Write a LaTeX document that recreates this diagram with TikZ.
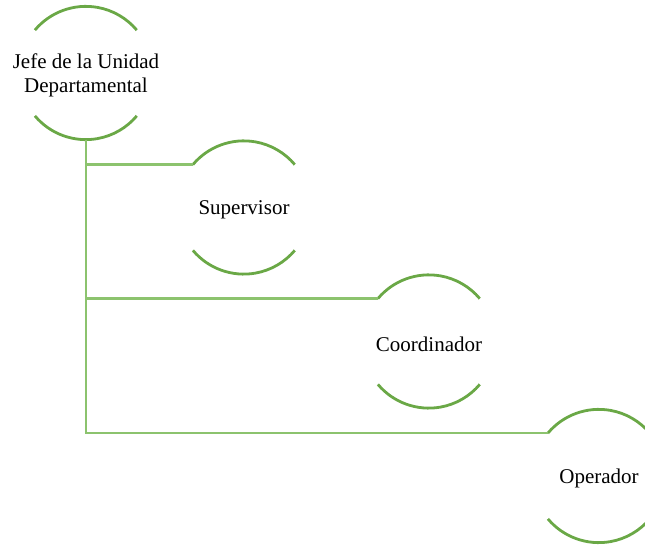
\documentclass[tikz,border=0pt]{standalone}
\usepackage{fontspec}
\setmainfont{Liberation Serif}
\definecolor{ringgreen}{RGB}{106,168,70}
\definecolor{linkgreen}{RGB}{140,195,110}
\tikzset{
	ring/.style={circle, minimum size=133pt, inner sep=0pt},
	role/.style={font=\fontsize{21}{23.5}\selectfont, align=center, inner sep=0pt, yshift=-2.5pt},
	arcline/.style={ringgreen, line width=2.8pt},
	link/.style={linkgreen, line width=2.6pt}
}
\begin{document}
\begin{tikzpicture}[x=1pt,y=1pt]
		\useasboundingbox (0,0) rectangle (645,546);

		% Jefe
		\node[ring, label={[role]center:{Jefe de la Unidad\\Departamental}}] (jefe) at (86,473) {};
		\draw[arcline] (jefe.140) arc[start angle=140, end angle=40, radius=66.5pt];
		\draw[arcline] (jefe.220) arc[start angle=220, end angle=320, radius=66.5pt];

		% Supervisor
		\node[ring, label={[role]center:Supervisor}] (sup) at (244,338.5) {};
		\draw[arcline] (sup.140) arc[start angle=140, end angle=40, radius=66.5pt];
		\draw[arcline] (sup.220) arc[start angle=220, end angle=320, radius=66.5pt];

		% Coordinador
		\node[ring, label={[role]center:Coordinador}] (coord) at (429,204.5) {};
		\draw[arcline] (coord.140) arc[start angle=140, end angle=40, radius=66.5pt];
		\draw[arcline] (coord.220) arc[start angle=220, end angle=320, radius=66.5pt];

		% Operador
		\node[ring, label={[role]center:Operador}] (oper) at (599,70) {};
		\draw[arcline] (oper.140) arc[start angle=140, end angle=40, radius=66.5pt];
		\draw[arcline] (oper.220) arc[start angle=220, end angle=320, radius=66.5pt];

		% Links
		\draw[link] (jefe.south) |- (sup.140);
		\draw[link] (jefe.south) |- (coord.140);
		\draw[link] (jefe.south) |- (oper.140);
	\end{tikzpicture}
\end{document}
